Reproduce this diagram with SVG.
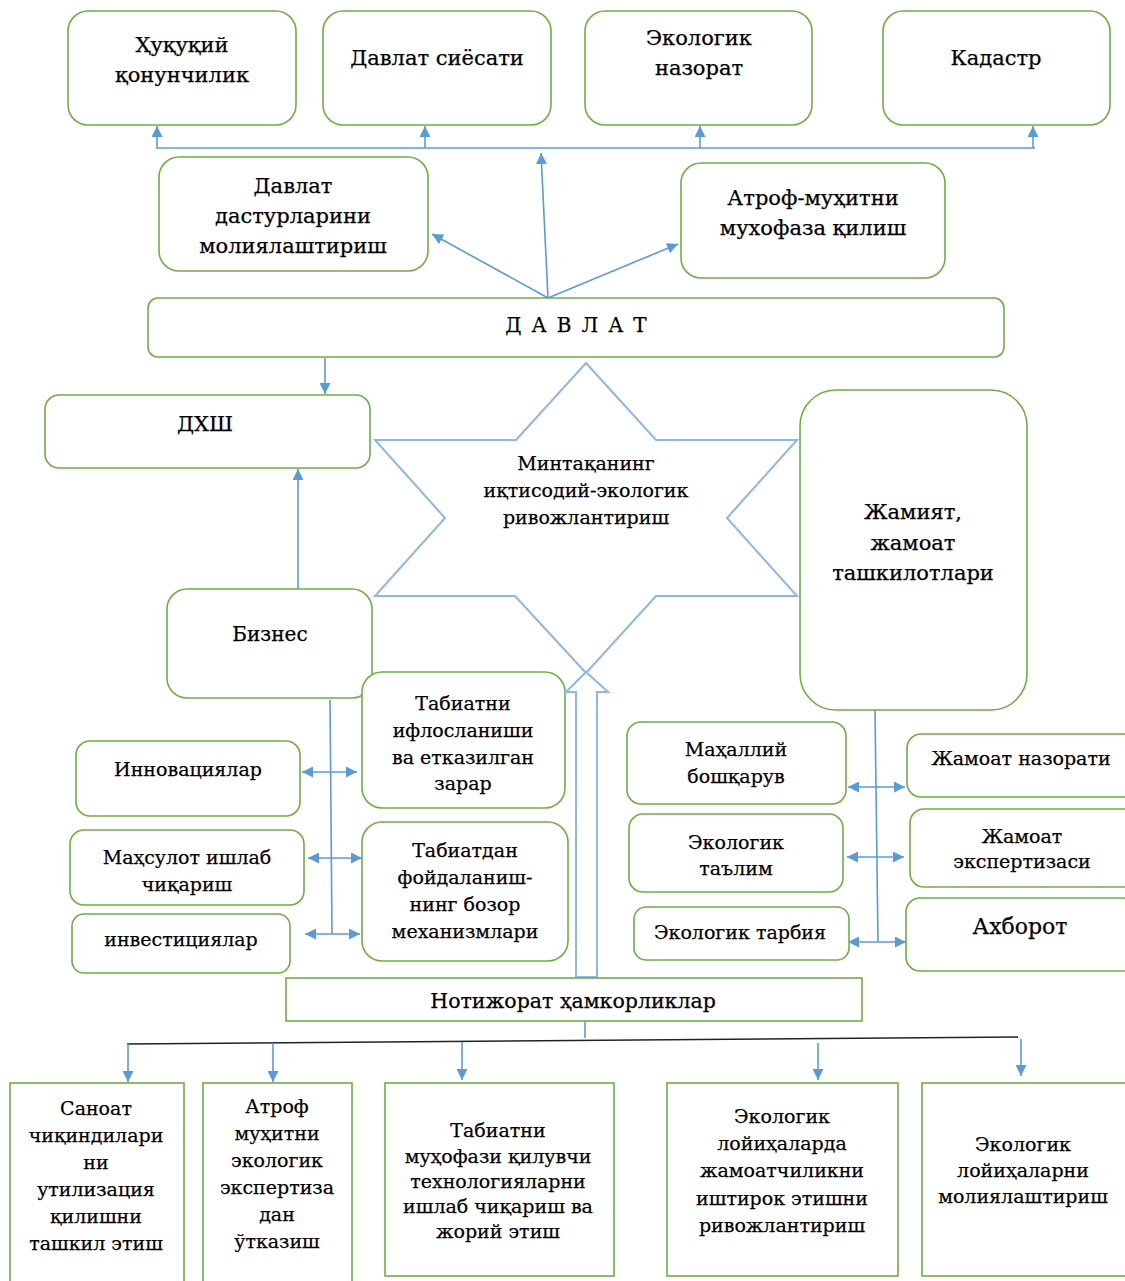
<svg xmlns="http://www.w3.org/2000/svg" width="1125" height="1281" viewBox="0 0 1125 1281">
<defs>
<marker id="ah" viewBox="0 0 10 10" refX="10" refY="5" markerWidth="11" markerHeight="11" orient="auto-start-reverse" markerUnits="userSpaceOnUse"><path d="M0,0 L10,5 L0,10 z" fill="#5B9BD5"/></marker>
<style>
.n{fill:#fff;stroke:#70AD47;stroke-width:1.6}
.t{font-family:"DejaVu Serif","Liberation Serif",serif;font-size:19px;fill:#000;stroke:#000;stroke-width:0.25;text-anchor:middle}
.b{font-size:21px}
.c{stroke:#5B9BD5;stroke-width:1.6;fill:none}
.s{fill:#fff;stroke:#8DB7E4;stroke-width:2}
</style>
</defs>
<rect width="1125" height="1281" fill="#fff"/>

<g id="connectors">
<path class="c" d="M156,148 L1035,148"/>
<path class="c" d="M157,148 L157,126" marker-end="url(#ah)"/>
<path class="c" d="M425,148 L425,126" marker-end="url(#ah)"/>
<path class="c" d="M700,148 L700,126" marker-end="url(#ah)"/>
<path class="c" d="M1033,148 L1033,126" marker-end="url(#ah)"/>
<path class="c" d="M548,298 L541,153" marker-end="url(#ah)"/>
<path class="c" d="M548,298 L432,234" marker-end="url(#ah)"/>
<path class="c" d="M548,298 L678,244" marker-end="url(#ah)"/>
<path class="c" d="M325,358 L325,394" marker-end="url(#ah)"/>
<path class="c" d="M298,589 L298,469" marker-end="url(#ah)"/>
<path class="c" d="M330,700 L332,934"/>
<path class="c" d="M302,772 L357,772" marker-start="url(#ah)" marker-end="url(#ah)"/>
<path class="c" d="M308,858 L362,858" marker-start="url(#ah)" marker-end="url(#ah)"/>
<path class="c" d="M305,934 L360,934" marker-start="url(#ah)" marker-end="url(#ah)"/>
<path class="c" d="M875,710 L878,942"/>
<path class="c" d="M848,787 L905,787" marker-start="url(#ah)" marker-end="url(#ah)"/>
<path class="c" d="M847,857 L904,857" marker-start="url(#ah)" marker-end="url(#ah)"/>
<path class="c" d="M848,942 L906,942" marker-start="url(#ah)" marker-end="url(#ah)"/>
<path class="c" d="M585,1021 L585,1038"/>
<path d="M127,1044 L1018,1037" stroke="#222" stroke-width="1.6" fill="none"/>
<path class="c" d="M128,1044 L128,1082" marker-end="url(#ah)"/>
<path class="c" d="M273,1043 L273,1082" marker-end="url(#ah)"/>
<path class="c" d="M462,1042 L462,1080" marker-end="url(#ah)"/>
<path class="c" d="M818,1043 L818,1080" marker-end="url(#ah)"/>
<path class="c" d="M1021,1039 L1021,1076" marker-end="url(#ah)"/>
</g>

<g id="n-huquqiy"><rect class="n" x="68" y="11" width="228" height="114" rx="20"/><text class="t b"><tspan x="182" y="52">Ҳуқуқий</tspan><tspan x="182" y="82">қонунчилик</tspan></text></g>
<g id="n-siyosat"><rect class="n" x="323" y="11" width="228" height="114" rx="20"/><text class="t b"><tspan x="437" y="65">Давлат сиёсати</tspan></text></g>
<g id="n-nazorat"><rect class="n" x="585" y="11" width="227" height="114" rx="20"/><text class="t b"><tspan x="699" y="45">Экологик</tspan><tspan x="699" y="75">назорат</tspan></text></g>
<g id="n-kadastr"><rect class="n" x="883" y="11" width="227" height="114" rx="20"/><text class="t b"><tspan x="996" y="65">Кадастр</tspan></text></g>
<g id="n-dasturlar"><rect class="n" x="159" y="157" width="269" height="114" rx="20"/><text class="t b"><tspan x="293" y="193">Давлат</tspan><tspan x="293" y="223">дастурларини</tspan><tspan x="293" y="253">молиялаштириш</tspan></text></g>
<g id="n-atrof"><rect class="n" x="681" y="163" width="264" height="115" rx="20"/><text class="t b"><tspan x="813" y="205">Атроф-муҳитни</tspan><tspan x="813" y="235">мухофаза қилиш</tspan></text></g>
<g id="n-davlat"><rect class="n" x="148" y="298" width="856" height="59" rx="10"/><text class="t" style="letter-spacing:10px;font-size:20px"><tspan x="581" y="332">ДАВЛАТ</tspan></text></g>
<g id="n-dxsh"><rect class="n" x="45" y="395" width="325" height="73" rx="14"/><text class="t b"><tspan x="205" y="431">ДХШ</tspan></text></g>

<g id="n-star"><polygon class="s" points="586,363 656,440 797,440 727,518 797,596 656,596 586,673 515,596 375,596 445,518 375,440 516,440"/><text class="t"><tspan x="586" y="470">Минтақанинг</tspan><tspan x="586" y="497">иқтисодий-экологик</tspan><tspan x="586" y="524">ривожлантириш</tspan></text></g>

<g id="n-jamiyat"><rect class="n" x="800" y="390" width="227" height="320" rx="36"/><text class="t b"><tspan x="913" y="519">Жамият,</tspan><tspan x="913" y="550">жамоат</tspan><tspan x="913" y="580">ташкилотлари</tspan></text></g>
<g id="n-biznes"><rect class="n" x="167" y="589" width="205" height="109" rx="20"/><text class="t" style="font-size:20px"><tspan x="270" y="641">Бизнес</tspan></text></g>

<g id="n-iflos"><rect class="n" x="362" y="672" width="203" height="136" rx="20"/><text class="t"><tspan x="463" y="710">Табиатни</tspan><tspan x="463" y="737">ифлосланиши</tspan><tspan x="463" y="764">ва етказилган</tspan><tspan x="463" y="790">зарар</tspan></text></g>
<g id="n-bozor"><rect class="n" x="362" y="822" width="206" height="139" rx="20"/><text class="t"><tspan x="465" y="857">Табиатдан</tspan><tspan x="465" y="884">фойдаланиш-</tspan><tspan x="465" y="911">нинг бозор</tspan><tspan x="465" y="938">механизмлари</tspan></text></g>

<g id="n-block-arrow"><polygon class="s" points="586,672 608,692 597,692 597,977 576,977 576,692 566,692"/></g>

<g id="n-innov"><rect class="n" x="76" y="741" width="224" height="75" rx="14"/><text class="t"><tspan x="188" y="776">Инновациялар</tspan></text></g>
<g id="n-mahsulot"><rect class="n" x="70" y="830" width="234" height="75" rx="14"/><text class="t"><tspan x="187" y="864">Маҳсулот ишлаб</tspan><tspan x="187" y="891">чиқариш</tspan></text></g>
<g id="n-invest"><rect class="n" x="72" y="914" width="218" height="59" rx="12"/><text class="t"><tspan x="181" y="946">инвестициялар</tspan></text></g>

<g id="n-mahalliy"><rect class="n" x="627" y="722" width="219" height="82" rx="14"/><text class="t"><tspan x="736" y="756">Маҳаллий</tspan><tspan x="736" y="783">бошқарув</tspan></text></g>
<g id="n-jnazorat"><rect class="n" x="907" y="734" width="230" height="63" rx="14"/><text class="t"><tspan x="1021" y="765">Жамоат назорати</tspan></text></g>
<g id="n-talim"><rect class="n" x="629" y="814" width="214" height="78" rx="14"/><text class="t"><tspan x="736" y="849">Экологик</tspan><tspan x="736" y="875">таълим</tspan></text></g>
<g id="n-jekspert"><rect class="n" x="910" y="809" width="230" height="78" rx="14"/><text class="t"><tspan x="1022" y="843">Жамоат</tspan><tspan x="1022" y="868">экспертизаси</tspan></text></g>
<g id="n-tarbiya"><rect class="n" x="634" y="907" width="215" height="53" rx="12"/><text class="t"><tspan x="740" y="939">Экологик тарбия</tspan></text></g>
<g id="n-axborot"><rect class="n" x="906" y="898" width="230" height="73" rx="14"/><text class="t" style="font-size:22px"><tspan x="1020" y="934">Ахборот</tspan></text></g>

<g id="n-notijorat"><rect class="n" x="286" y="978" width="576" height="43"/><text class="t" style="font-size:20.5px"><tspan x="573" y="1008">Нотижорат ҳамкорликлар</tspan></text></g>

<g id="n-sanoat"><rect class="n" x="10" y="1083" width="174" height="205"/><text class="t"><tspan x="96" y="1115">Саноат</tspan><tspan x="96" y="1142">чиқиндилари</tspan><tspan x="96" y="1169">ни</tspan><tspan x="96" y="1196">утилизация</tspan><tspan x="96" y="1223">қилишни</tspan><tspan x="96" y="1250">ташкил этиш</tspan></text></g>
<g id="n-ekspertiza"><rect class="n" x="203" y="1083" width="149" height="205"/><text class="t"><tspan x="277" y="1113">Атроф</tspan><tspan x="277" y="1140">муҳитни</tspan><tspan x="277" y="1167">экологик</tspan><tspan x="277" y="1194">экспертиза</tspan><tspan x="277" y="1221">дан</tspan><tspan x="277" y="1248">ўтказиш</tspan></text></g>
<g id="n-texnologiya"><rect class="n" x="385" y="1083" width="229" height="193"/><text class="t"><tspan x="498" y="1137">Табиатни</tspan><tspan x="498" y="1163">муҳофази қилувчи</tspan><tspan x="498" y="1188">технологияларни</tspan><tspan x="498" y="1213">ишлаб чиқариш ва</tspan><tspan x="498" y="1238">жорий этиш</tspan></text></g>
<g id="n-ishtirok"><rect class="n" x="667" y="1083" width="231" height="193"/><text class="t"><tspan x="782" y="1123">Экологик</tspan><tspan x="782" y="1150">лойиҳаларда</tspan><tspan x="782" y="1177">жамоатчиликни</tspan><tspan x="782" y="1205">иштирок этишни</tspan><tspan x="782" y="1232">ривожлантириш</tspan></text></g>
<g id="n-moliya"><rect class="n" x="922" y="1083" width="215" height="193"/><text class="t"><tspan x="1023" y="1151">Экологик</tspan><tspan x="1023" y="1177">лойиҳаларни</tspan><tspan x="1023" y="1203">молиялаштириш</tspan></text></g>
</svg>
